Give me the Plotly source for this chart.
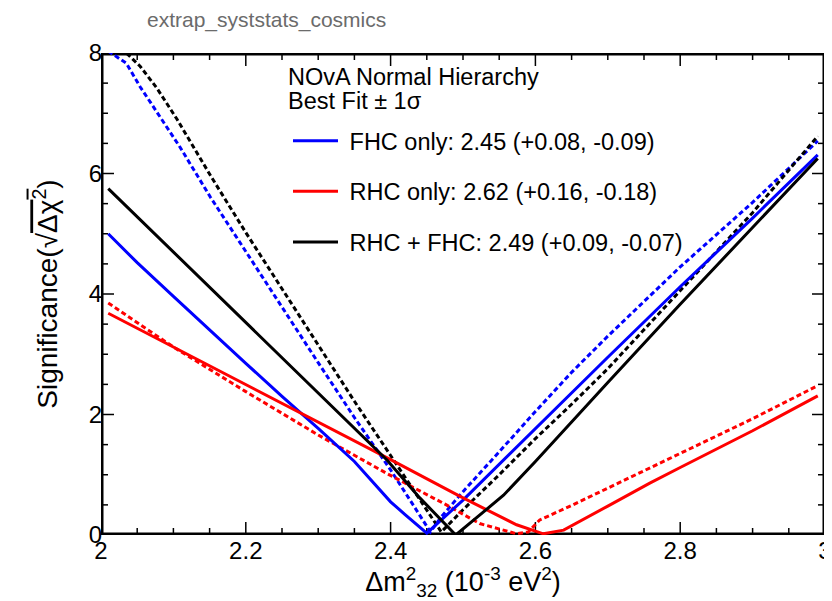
import plotly.graph_objects as go

# ---- data ----
fhc_x = [2.01, 2.05, 2.10, 2.15, 2.20, 2.25, 2.30, 2.35, 2.40, 2.42, 2.45, 2.50, 2.60, 2.70, 2.80, 2.90, 2.99]
fhc_y = [5.00, 4.52, 3.96, 3.40, 2.85, 2.30, 1.77, 1.22, 0.55, 0.34, 0.03, 0.58, 1.77, 2.95, 4.12, 5.26, 6.31]

fhc_dot_x = [2.01, 2.035, 2.054, 2.081, 2.109, 2.151, 2.20, 2.25, 2.30, 2.35, 2.40, 2.43, 2.455, 2.47, 2.50, 2.55, 2.60, 2.65, 2.70, 2.80, 2.90, 2.99]
fhc_dot_y = [8.03, 7.83, 7.44, 6.94, 6.44, 5.61, 4.70, 3.78, 2.86, 1.95, 1.08, 0.52, 0.05, 0.30, 0.72, 1.38, 2.05, 2.70, 3.30, 4.45, 5.52, 6.54]

rhc_x = [2.01, 2.10, 2.20, 2.30, 2.40, 2.496, 2.54, 2.574, 2.611, 2.639, 2.70, 2.758, 2.80, 2.90, 2.99]
rhc_y = [3.68, 3.12, 2.49, 1.87, 1.25, 0.64, 0.38, 0.17, 0.02, 0.08, 0.48, 0.86, 1.12, 1.73, 2.31]

rhc_dot_x = [2.01, 2.10, 2.20, 2.30, 2.395, 2.477, 2.523, 2.574, 2.59, 2.606, 2.65, 2.70, 2.758, 2.80, 2.90, 2.99]
rhc_dot_y = [3.85, 3.12, 2.38, 1.66, 1.02, 0.50, 0.19, 0.02, 0.05, 0.25, 0.49, 0.78, 1.11, 1.35, 1.93, 2.48]

both_x = [2.01, 2.10, 2.20, 2.30, 2.35, 2.395, 2.44, 2.49, 2.52, 2.556, 2.60, 2.65, 2.70, 2.80, 2.90, 2.99]
both_y = [5.75, 4.70, 3.53, 2.36, 1.77, 1.245, 0.62, 0.00, 0.30, 0.66, 1.22, 1.88, 2.53, 3.83, 5.10, 6.25]

both_dot_x = [2.01, 2.035, 2.054, 2.077, 2.105, 2.132, 2.151, 2.20, 2.25, 2.30, 2.35, 2.40, 2.44, 2.47, 2.50, 2.55, 2.60, 2.65, 2.70, 2.80, 2.90, 2.99]
both_dot_y = [8.25, 8.00, 7.78, 7.42, 6.90, 6.36, 5.97, 5.02, 4.08, 3.14, 2.22, 1.32, 0.60, 0.05, 0.42, 1.00, 1.60, 2.17, 2.76, 4.05, 5.35, 6.62]

x_range = [2.0, 3.0]
y_range = [0.0, 8.0]
x_major_ticks = [2.0, 2.2, 2.4, 2.6, 2.8, 3.0]
x_tick_text = ["2", "2.2", "2.4", "2.6", "2.8", "3"]
x_minor_ticks = [2.05, 2.10, 2.15, 2.25, 2.30, 2.35, 2.45, 2.50, 2.55, 2.65, 2.70, 2.75, 2.85, 2.90, 2.95]
y_major_ticks = [0, 2, 4, 6, 8]
y_tick_text = ["0", "2", "4", "6", "8"]
y_minor_ticks = [0.5, 1.0, 1.5, 2.5, 3.0, 3.5, 4.5, 5.0, 5.5, 6.5, 7.0, 7.5]

legend_labels = ["FHC only: 2.45 (+0.08, -0.09)",
                 "RHC only: 2.62 (+0.16, -0.18)",
                 "RHC + FHC: 2.49 (+0.09, -0.07)"]
header_lines = ["NOvA Normal Hierarchy", "Best Fit ± 1σ"]
title_text = "extrap_syststats_cosmics"

FONT = "Liberation Sans, Arial, sans-serif"
DOT = "5px,3px"
LW = 3

# page body has an 8px margin: shift everything by that so the picture lines up
OFF = 8
W, H = 832 - OFF, 601 - OFF
L, R, T, B = 101 - OFF, 7, 53 - OFF, 66
pw, ph = W - L - R, H - T - B
MAJ, MIN = 13, 7   # tick lengths, px

def px2paperx(px):
    return (px - OFF - L) / pw

def py2papery(py):
    return (H - B - (py - OFF)) / ph

fig = go.Figure()

# ---- ROOT-style frame and inside ticks, drawn as ordinary (clipped) line traces ----
def tick_segments_x(ticks, ln):
    dy = ln / ph * (y_range[1] - y_range[0])
    xs, ys = [], []
    for t in ticks:
        xs += [t, t, None, t, t, None]
        ys += [y_range[0], y_range[0] + dy, None, y_range[1], y_range[1] - dy, None]
    return xs, ys

def tick_segments_y(ticks, ln):
    dx = ln / pw * (x_range[1] - x_range[0])
    xs, ys = [], []
    for t in ticks:
        xs += [x_range[0], x_range[0] + dx, None, x_range[1], x_range[1] - dx, None]
        ys += [t, t, None, t, t, None]
    return xs, ys

tx, ty = [], []
for seg in (tick_segments_x(x_major_ticks, MAJ), tick_segments_x(x_minor_ticks, MIN),
            tick_segments_y(y_major_ticks, MAJ), tick_segments_y(y_minor_ticks, MIN)):
    tx += seg[0]
    ty += seg[1]
fig.add_trace(go.Scatter(x=tx, y=ty, mode="lines", showlegend=False, hoverinfo="skip",
                         connectgaps=False, line=dict(color="black", width=1.5)))
# frame: half of the stroke falls outside the plot area and is clipped
fig.add_trace(go.Scatter(x=[x_range[0], x_range[1], x_range[1], x_range[0], x_range[0]],
                         y=[y_range[0], y_range[0], y_range[1], y_range[1], y_range[0]],
                         mode="lines", showlegend=False, hoverinfo="skip",
                         line=dict(color="black", width=5)))

# dotted curves (no legend)
fig.add_trace(go.Scatter(x=fhc_dot_x, y=fhc_dot_y, mode="lines", showlegend=False,
                         line=dict(color="#0000ff", width=LW, dash=DOT)))
fig.add_trace(go.Scatter(x=both_dot_x, y=both_dot_y, mode="lines", showlegend=False,
                         line=dict(color="#000000", width=LW, dash=DOT)))
fig.add_trace(go.Scatter(x=rhc_dot_x, y=rhc_dot_y, mode="lines", showlegend=False,
                         line=dict(color="#ff0000", width=LW, dash=DOT)))
# solid curves
fig.add_trace(go.Scatter(x=fhc_x, y=fhc_y, mode="lines", name="\u00a0" + legend_labels[0], legendgroup="a",
                         line=dict(color="#0000ff", width=LW)))
fig.add_trace(go.Scatter(x=rhc_x, y=rhc_y, mode="lines", name="\u00a0" + legend_labels[1], legendgroup="b",
                         line=dict(color="#ff0000", width=LW)))
fig.add_trace(go.Scatter(x=both_x, y=both_y, mode="lines", name="\u00a0" + legend_labels[2], legendgroup="c",
                         line=dict(color="#000000", width=LW)))

for i, txt in enumerate(header_lines):
    fig.add_annotation(text=txt, xref="paper", yref="paper", x=px2paperx(286), y=py2papery([77, 101][i]),
                       xanchor="left", yanchor="middle", showarrow=False,
                       font=dict(family=FONT, size=23.5, color="black"))

axis_common = dict(showline=False, ticks="", showgrid=False, zeroline=False, automargin=False,
                   tickfont=dict(family=FONT, size=24, color="black"))

fig.update_layout(
    template="none",
    width=W, height=H, autosize=False,
    margin=dict(l=L, r=R, t=T, b=B),
    paper_bgcolor="white", plot_bgcolor="white",
    font=dict(family=FONT, color="black"),
    title=dict(text=title_text, xref="container", yref="container", x=(147 - OFF) / W, xanchor="left",
               y=1 - (20 - OFF) / H, yanchor="middle", font=dict(family=FONT, size=21, color="#6b6b6b")),
    showlegend=True,
    legend=dict(x=px2paperx(288), y=py2papery(119), xanchor="left", yanchor="top",
                bgcolor="rgba(0,0,0,0)", borderwidth=0, tracegroupgap=17, itemwidth=45,
                font=dict(family=FONT, size=23.5, color="black")),
    xaxis=dict(range=x_range, tickvals=x_major_ticks, ticktext=x_tick_text,
               title=dict(text="Δm<sup>2</sup><sub>32</sub> (10<sup>-3</sup> eV<sup>2</sup>)",
                          font=dict(family=FONT, size=27), standoff=2),
               ticklabelstandoff=-1, **axis_common),
    yaxis=dict(range=y_range, tickvals=y_major_ticks, ticktext=y_tick_text,
               title=dict(text="Significance(√<span style='text-decoration:overline'>Δχ<sup>2</sup></span>)",
                          font=dict(family=FONT, size=28), standoff=22),
               ticklabelstandoff=-2, **axis_common),
)

fig.write_html("out.html")
